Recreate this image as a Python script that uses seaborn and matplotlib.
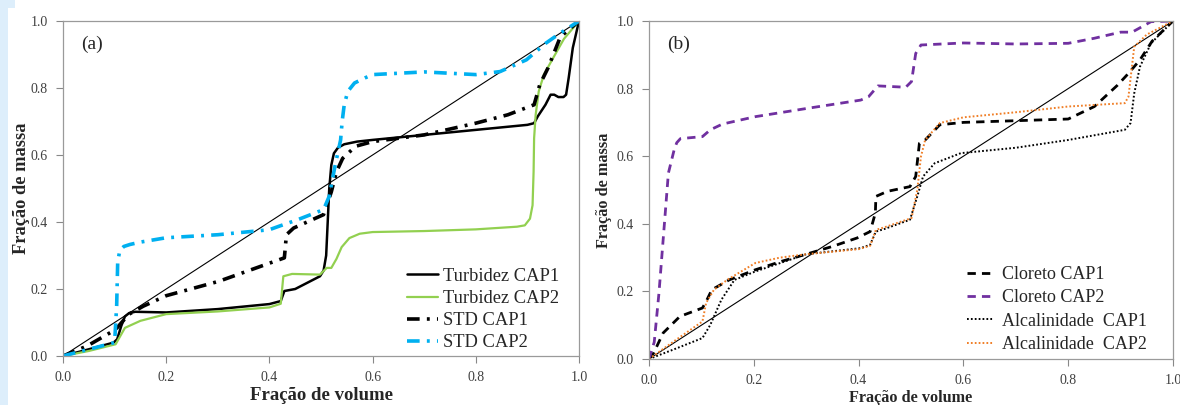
import matplotlib
matplotlib.use("Agg")
import matplotlib.pyplot as plt
import seaborn as sns
import numpy as np
from matplotlib.patches import Rectangle

# ---------------- data: panel (a) ----------------
turb1_x = [0.0, 0.05, 0.098, 0.105, 0.113, 0.12, 0.128, 0.14, 0.2, 0.3, 0.4, 0.422, 0.429, 0.45, 0.498, 0.505, 0.51, 0.513, 0.516, 0.52, 0.525, 0.533, 0.545, 0.57, 0.6, 0.7, 0.8, 0.9, 0.913, 0.92, 0.935, 0.945, 0.952, 0.96, 0.97, 0.975, 0.98, 0.988, 1.0]
turb1_y = [0.0, 0.02, 0.04, 0.05, 0.09, 0.118, 0.128, 0.132, 0.13, 0.14, 0.155, 0.164, 0.194, 0.2, 0.238, 0.255, 0.3, 0.4, 0.5, 0.57, 0.605, 0.622, 0.632, 0.64, 0.645, 0.66, 0.675, 0.69, 0.695, 0.715, 0.75, 0.78, 0.78, 0.773, 0.773, 0.78, 0.83, 0.92, 1.0]

turb2_x = [0.0, 0.05, 0.102, 0.12, 0.15, 0.2, 0.3, 0.4, 0.422, 0.427, 0.444, 0.498, 0.511, 0.52, 0.53, 0.54, 0.555, 0.575, 0.6, 0.7, 0.8, 0.88, 0.895, 0.905, 0.91, 0.912, 0.913, 0.916, 0.922, 0.932, 0.95, 0.971, 1.0]
turb2_y = [0.0, 0.015, 0.035, 0.084, 0.105, 0.125, 0.133, 0.145, 0.156, 0.238, 0.245, 0.243, 0.263, 0.263, 0.29, 0.325, 0.352, 0.365, 0.37, 0.373, 0.378, 0.386, 0.39, 0.41, 0.45, 0.55, 0.65, 0.72, 0.79, 0.84, 0.89, 0.947, 1.0]

std1_x = [0.0, 0.047, 0.102, 0.127, 0.156, 0.2, 0.302, 0.429, 0.433, 0.447, 0.505, 0.52, 0.53, 0.542, 0.567, 0.6, 0.7, 0.8, 0.862, 0.913, 0.924, 0.94, 0.964, 1.0]
std1_y = [0.0, 0.03, 0.079, 0.124, 0.149, 0.18, 0.223, 0.293, 0.362, 0.382, 0.422, 0.49, 0.55, 0.59, 0.626, 0.64, 0.66, 0.695, 0.72, 0.75, 0.81, 0.86, 0.953, 1.0]

std2_x = [0.0, 0.05, 0.1, 0.104, 0.106, 0.11, 0.118, 0.13, 0.15, 0.2, 0.3, 0.4, 0.418, 0.455, 0.505, 0.516, 0.527, 0.538, 0.541, 0.545, 0.552, 0.565, 0.585, 0.6, 0.7, 0.8, 0.847, 0.898, 0.935, 0.96, 1.0]
std2_y = [0.0, 0.02, 0.04, 0.15, 0.28, 0.315, 0.327, 0.333, 0.34, 0.353, 0.362, 0.377, 0.387, 0.407, 0.437, 0.477, 0.566, 0.645, 0.7, 0.75, 0.79, 0.815, 0.83, 0.84, 0.848, 0.84, 0.849, 0.884, 0.933, 0.96, 1.0]

# ---------------- data: panel (b) ----------------
clo1_x = [0.0, 0.009, 0.027, 0.059, 0.102, 0.109, 0.12, 0.153, 0.203, 0.253, 0.3, 0.35, 0.397, 0.422, 0.432, 0.433, 0.455, 0.498, 0.509, 0.516, 0.527, 0.555, 0.6, 0.7, 0.8, 0.85, 0.894, 0.915, 0.937, 0.96, 1.0]
clo1_y = [0.0, 0.018, 0.077, 0.126, 0.151, 0.17, 0.205, 0.234, 0.264, 0.289, 0.31, 0.333, 0.358, 0.377, 0.432, 0.481, 0.496, 0.51, 0.54, 0.638, 0.648, 0.693, 0.70, 0.705, 0.71, 0.747, 0.81, 0.845, 0.885, 0.94, 1.0]

clo2_x = [0.0, 0.01, 0.019, 0.027, 0.037, 0.048, 0.053, 0.06, 0.102, 0.117, 0.14, 0.203, 0.304, 0.404, 0.419, 0.437, 0.49, 0.501, 0.509, 0.519, 0.6, 0.7, 0.8, 0.85, 0.9, 0.922, 0.958, 1.0]
clo2_y = [0.0, 0.05, 0.195, 0.353, 0.55, 0.619, 0.64, 0.652, 0.658, 0.678, 0.695, 0.717, 0.742, 0.766, 0.776, 0.808, 0.804, 0.821, 0.904, 0.929, 0.935, 0.932, 0.934, 0.949, 0.967, 0.967, 0.998, 1.0]

alc1_x = [0.0, 0.05, 0.102, 0.117, 0.138, 0.163, 0.203, 0.3, 0.404, 0.422, 0.433, 0.45, 0.498, 0.512, 0.523, 0.545, 0.595, 0.7, 0.8, 0.908, 0.919, 0.926, 0.937, 0.958, 1.0]
alc1_y = [0.0, 0.03, 0.062, 0.101, 0.175, 0.234, 0.259, 0.31, 0.328, 0.338, 0.377, 0.385, 0.412, 0.481, 0.54, 0.579, 0.609, 0.625, 0.648, 0.678, 0.698, 0.786, 0.865, 0.934, 1.0]

alc2_x = [0.0, 0.05, 0.102, 0.109, 0.124, 0.15, 0.203, 0.25, 0.3, 0.4, 0.422, 0.433, 0.45, 0.501, 0.512, 0.519, 0.527, 0.555, 0.6, 0.7, 0.8, 0.908, 0.915, 0.926, 0.95, 1.0]
alc2_y = [0.0, 0.055, 0.111, 0.166, 0.205, 0.235, 0.284, 0.3, 0.31, 0.325, 0.335, 0.382, 0.39, 0.417, 0.5, 0.599, 0.648, 0.698, 0.715, 0.73, 0.747, 0.757, 0.776, 0.924, 0.96, 1.0]

ref_x = [0.0, 1.0]
ref_y = [0.0, 1.0]
ticks = [0.0, 0.2, 0.4, 0.6, 0.8, 1.0]
tick_labels = ["0.0", "0.2", "0.4", "0.6", "0.8", "1.0"]

sns.set_theme(style="white")
plt.rcParams['font.family'] = ['Liberation Serif', 'DejaVu Serif']

fig = plt.figure(figsize=(11.8, 4.05), dpi=100)
fig.patch.set_facecolor("white")
fig.patches.append(Rectangle((0, 0), 8 / 1180, 1, transform=fig.transFigure,
                             facecolor="#DDEEFB", edgecolor="none", zorder=0))
fig.patches.append(Rectangle((0, 1 - 8 / 405), 15 / 1180, 8 / 405, transform=fig.transFigure,
                             facecolor="#DDEEFB", edgecolor="none", zorder=0))

ax1 = fig.add_axes([63 / 1180, (405 - 356) / 405, 516 / 1180, 335 / 405])
ax2 = fig.add_axes([649 / 1180, (405 - 359) / 405, 524 / 1180, 338 / 405])

def line(ax, x, y, **kw):
    sns.lineplot(x=x, y=y, ax=ax, estimator=None, sort=False, **kw)

# panel a
line(ax1, ref_x, ref_y, color="black", linewidth=0.8)
line(ax1, turb1_x, turb1_y, color="black", linewidth=1.8, label="Turbidez CAP1")
line(ax1, turb2_x, turb2_y, color="#92D050", linewidth=1.6, label="Turbidez CAP2")
line(ax1, std1_x, std1_y, color="black", linewidth=2.6, label="STD CAP1")
line(ax1, std2_x, std2_y, color="#00B0F0", linewidth=2.6, label="STD CAP2")
lines_a = ax1.get_lines()
lines_a[3].set_dashes([3.5, 2.0, 0.8, 2.0])
lines_a[4].set_dashes([3.5, 2.0, 0.8, 2.0])

# panel b
line(ax2, ref_x, ref_y, color="black", linewidth=0.8)
line(ax2, clo1_x, clo1_y, color="black", linewidth=2.0, label="Cloreto CAP1")
line(ax2, clo2_x, clo2_y, color="#7030A0", linewidth=2.0, label="Cloreto CAP2")
line(ax2, alc1_x, alc1_y, color="black", linewidth=1.4, label="Alcalinidade  CAP1")
line(ax2, alc2_x, alc2_y, color="#F07E26", linewidth=1.4, label="Alcalinidade  CAP2")
lines_b = ax2.get_lines()
lines_b[1].set_dashes([3.0, 2.2])
lines_b[2].set_dashes([3.0, 2.2])
lines_b[3].set_dashes([0.9, 1.1])
lines_b[4].set_dashes([0.9, 1.1])

for ax, lbl in ((ax1, "(a)"), (ax2, "(b)")):
    ax.set_xlim(0, 1)
    ax.set_ylim(0, 1)
    ax.set_xticks(ticks)
    ax.set_xticklabels(tick_labels)
    ax.set_yticks(ticks)
    ax.set_yticklabels(tick_labels)
    ax.tick_params(axis="both", direction="out", length=5, width=0.8, color="#888888",
                   labelsize=10, labelcolor="#404040", pad=6, bottom=True, left=True)
    for s in ax.spines.values():
        s.set_color("#9A9A9A")
        s.set_linewidth(0.9)
    ax.set_facecolor("white")
    ax.grid(False)
    ax.text(0.035, 0.93, lbl, transform=ax.transAxes, fontsize=14, va="center", ha="left")

ax1.set_xlabel("Fração de volume", fontsize=13.5, fontweight="bold", labelpad=2)
ax1.set_ylabel("Fração de massa", fontsize=13.2, fontweight="bold", labelpad=0)
ax2.set_xlabel("Fração de volume", fontsize=11.7, fontweight="bold", labelpad=2)
ax2.set_ylabel("Fração de massa", fontsize=11.7, fontweight="bold", labelpad=3)

ax1.legend(loc="lower right", bbox_to_anchor=(0.987, -0.025), frameon=False, fontsize=13.3,
           handlelength=1.7, handletextpad=0.25, labelspacing=0.28, borderaxespad=0.3)
ax2.legend(loc="lower right", bbox_to_anchor=(0.975, -0.02), frameon=False, fontsize=13,
           handlelength=1.5, handletextpad=0.45, labelspacing=0.35, borderaxespad=0.3)

fig.savefig("out.png", dpi=100, facecolor=fig.get_facecolor())
